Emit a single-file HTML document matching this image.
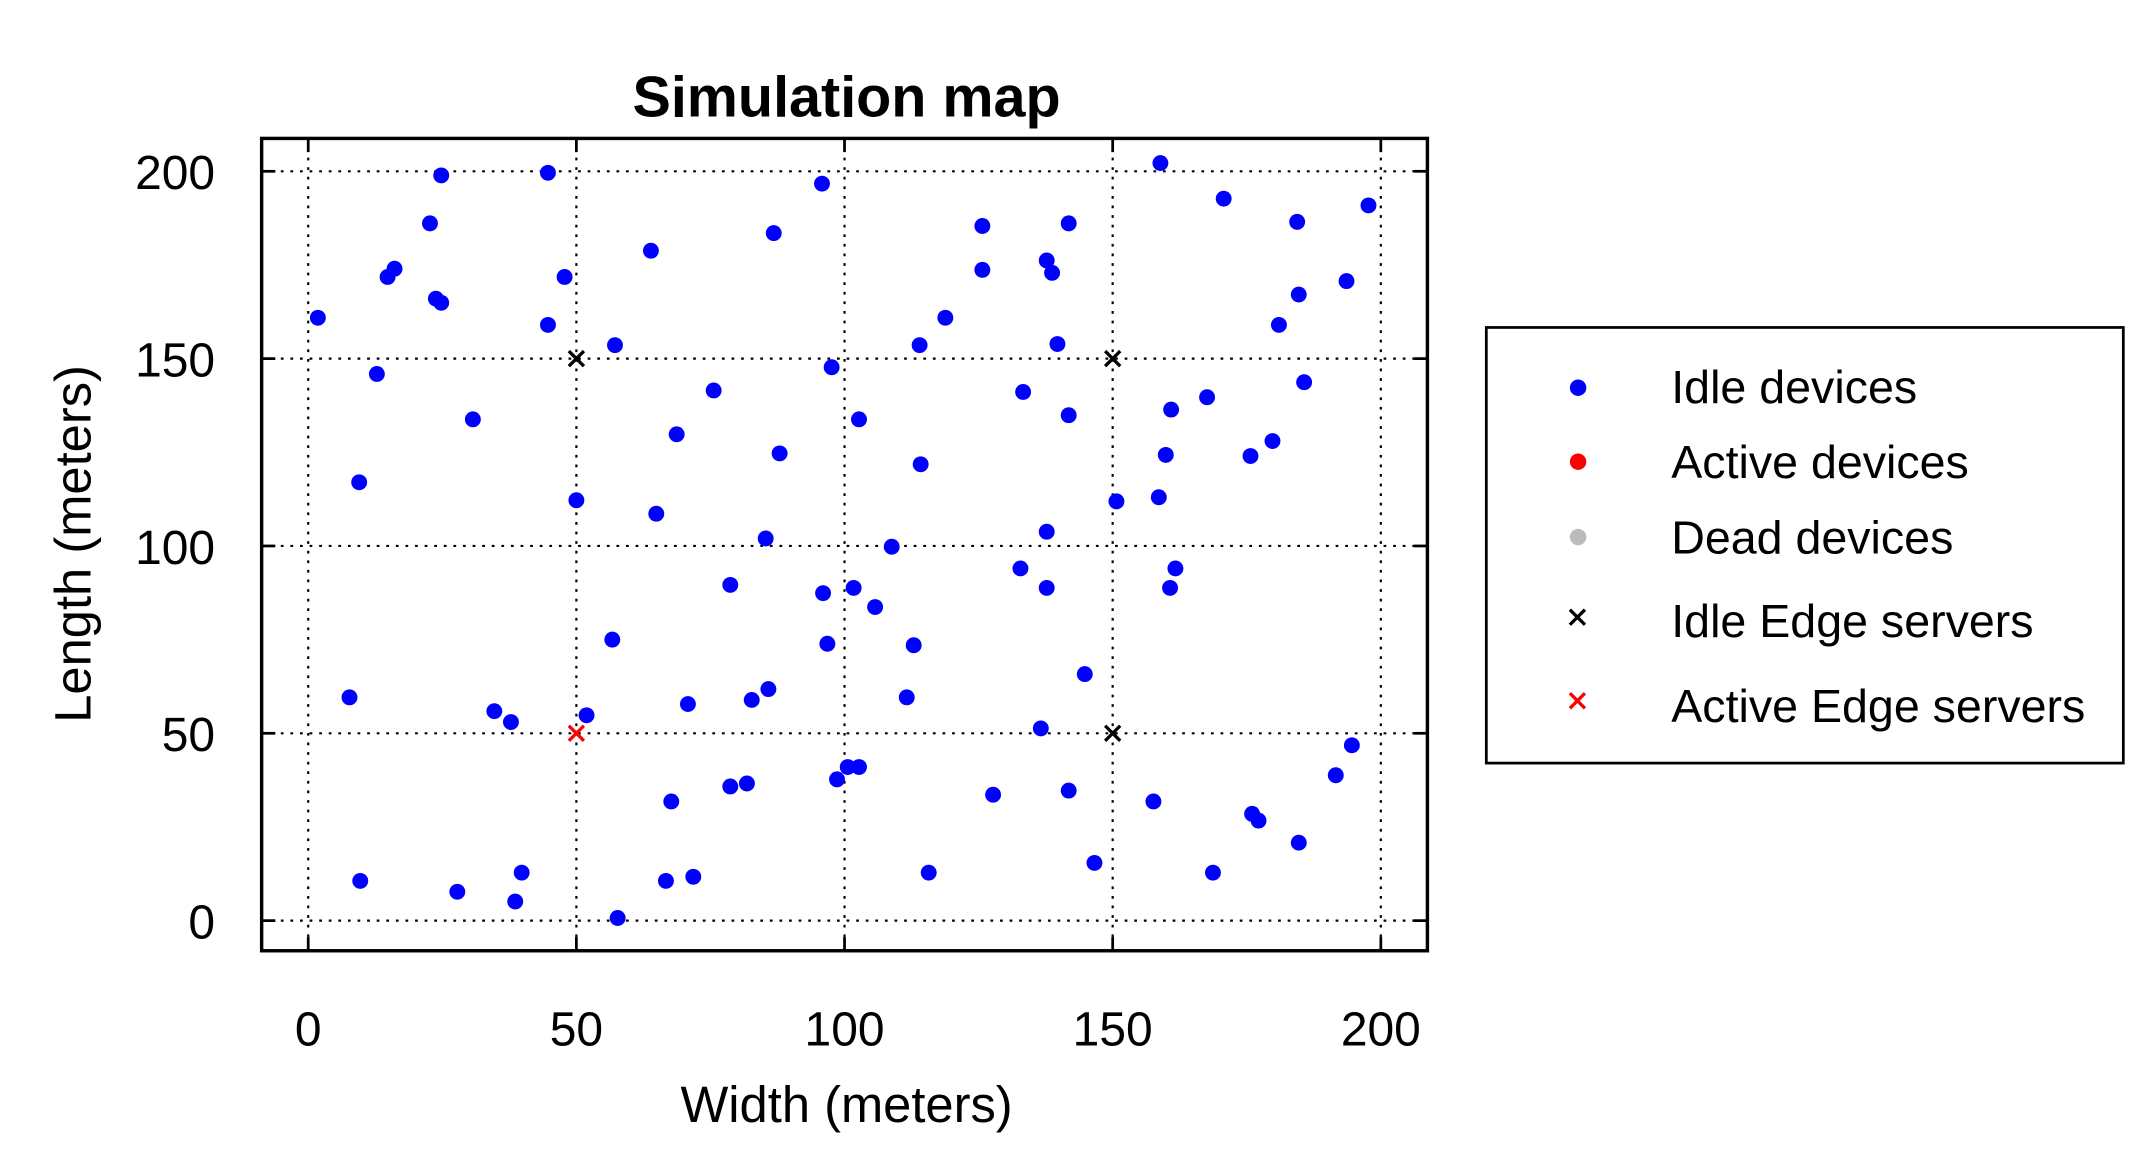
<!DOCTYPE html>
<html><head><meta charset="utf-8"><style>
html,body{margin:0;padding:0;background:#fff}
svg{display:block;font-family:"Liberation Sans",Arial,sans-serif}
</style></head><body>
<svg id="chart" width="2137" height="1170" viewBox="0 0 1560 854" xmlns="http://www.w3.org/2000/svg">
<rect width="1560" height="854" fill="#fff"/>
<text x="618" y="85" font-size="42" font-weight="bold" text-anchor="middle">Simulation map</text>
<g id="grid"></g>
<g id="ticks"></g>
<g id="marks"></g>
<rect x="191" y="101" width="851" height="593" fill="none" stroke="#000" stroke-width="2.5"/>
<text x="618" y="819" font-size="37" text-anchor="middle">Width (meters)</text>
<text transform="translate(66,397) rotate(-90)" font-size="37" text-anchor="middle">Length (meters)</text>
<g>
<rect x="1085" y="239" width="465" height="318" fill="#fff" stroke="#000" stroke-width="2"/>
<g><circle cx="1152" cy="283" r="6" fill="#0000ff"/><text x="1220" y="294" font-size="34">Idle devices</text></g>
<g><circle cx="1152" cy="337" r="6" fill="#ff0000"/><text x="1220" y="349" font-size="34">Active devices</text></g>
<g><circle cx="1152" cy="392" r="6" fill="#bbbbbb"/><text x="1220" y="404" font-size="34">Dead devices</text></g>
<g><path d="M1146 445 l11 11 M1157 445 l-11 11" stroke="#000" stroke-width="2.4"/><text x="1220" y="465" font-size="34">Idle Edge servers</text></g>
<g><path d="M1146 506 l11 11 M1157 506 l-11 11" stroke="#ff0000" stroke-width="2.4"/><text x="1220" y="527" font-size="34">Active Edge servers</text></g>
</g>
</svg>
<script>
const xTicks=[0,50,100,150,200];
const yTicks=[0,50,100,150,200];
const idleX=[1.8,12.8,9.5,7.7,9.7,14.8,16.1,22.7,24.8,23.8,24.8,30.7,27.8,34.7,37.8,38.6,39.8,44.7,44.7,47.8,50,51.9,57.2,56.7,57.7,63.9,64.9,68.7,75.6,70.8,67.7,66.7,71.8,78.7,78.7,81.8,82.7,85.8,85.3,86.8,87.9,95.8,96,96.8,97.6,98.6,100.6,102.7,101.7,102.7,105.7,108.8,111.6,112.9,114,114.2,115.7,118.8,125.7,125.7,127.7,132.8,133.3,136.6,137.7,138.7,137.7,137.7,139.7,141.8,141.8,141.8,144.8,146.6,150.7,157.6,158.9,158.6,159.9,160.9,160.7,161.7,167.6,168.7,170.7,175.7,176,177.2,179.8,181,184.7,184.4,185.7,184.7,191.6,193.6,194.6,197.7];
const idleY=[160.9,145.9,117,59.6,10.6,171.8,174,186.1,198.9,166,164.9,133.8,7.7,55.9,53,5.1,12.8,199.6,159,171.8,112.2,54.8,153.6,75,0.7,178.8,108.6,129.8,141.5,57.8,31.8,10.6,11.7,89.6,35.8,36.6,58.9,61.8,102,183.5,124.7,196.7,87.4,73.9,147.7,37.7,41,41,88.8,133.8,83.7,99.8,59.6,73.5,153.6,121.8,12.8,160.9,185.4,173.7,33.6,94,141.1,51.3,176.2,172.9,103.8,88.8,153.9,186.1,134.9,34.7,65.8,15.4,111.9,31.8,202.2,113,124.3,136.4,88.8,94,139.7,12.8,192.7,124,28.5,26.7,128,159,167.1,186.5,143.7,20.8,38.8,170.7,46.8,190.9];
const serverIdleX=[50,150,150];
const serverIdleY=[150,150,50];
const serverActiveX=[50];
const serverActiveY=[50];
const NS="http://www.w3.org/2000/svg";
function sx(v){return 225+v*(1008-225)/200;}
function sy(v){return 672-v*(672-125)/200;}
function mk(t,a,p){const e=document.createElementNS(NS,t);for(const k in a)e.setAttribute(k,a[k]);p.appendChild(e);return e;}
const grid=document.getElementById('grid'),ticks=document.getElementById('ticks'),marks=document.getElementById('marks');
xTicks.forEach(v=>{
 const l=mk('line',{x1:sx(v),x2:sx(v),y1:101,y2:694,stroke:'#000','stroke-width':1.6,'stroke-dasharray':'2,5'},grid);
 
 
 mk('line',{x1:sx(v),x2:sx(v),y1:694,y2:684,stroke:'#000','stroke-width':2},ticks);
 mk('line',{x1:sx(v),x2:sx(v),y1:101,y2:111,stroke:'#000','stroke-width':2},ticks);
 const t=mk('text',{x:sx(v),y:763,'font-size':35,'text-anchor':'middle'},ticks);t.textContent=v;
 
 
});
yTicks.forEach(v=>{
 const l=mk('line',{x1:191,x2:1042,y1:sy(v),y2:sy(v),stroke:'#000','stroke-width':1.6,'stroke-dasharray':'2,5'},grid);
 
 
 mk('line',{x1:191,x2:201,y1:sy(v),y2:sy(v),stroke:'#000','stroke-width':2},ticks);
 mk('line',{x1:1032,x2:1042,y1:sy(v),y2:sy(v),stroke:'#000','stroke-width':2},ticks);
 const t=mk('text',{x:157,y:sy(v)+13,'font-size':35,'text-anchor':'end'},ticks);t.textContent=v;
 
 
});
idleX.forEach((x,i)=>{
 const c=mk('circle',{cx:sx(x),cy:sy(idleY[i]),r:5.8,fill:'#0000ff'},marks);
 
 
});
function cross(x,y,col){
 const p=mk('path',{d:`M${sx(x)-5.5} ${sy(y)-5.5} l11 11 M${sx(x)+5.5} ${sy(y)-5.5} l-11 11`,stroke:col,'stroke-width':2.4},marks);
 return p;
}
serverIdleX.forEach((x,i)=>{
 const p=cross(x,serverIdleY[i],'#000');
 
 
});
serverActiveX.forEach((x,i)=>{
 const p=cross(x,serverActiveY[i],'#ff0000');
 
 
});
</script>
</body></html>
